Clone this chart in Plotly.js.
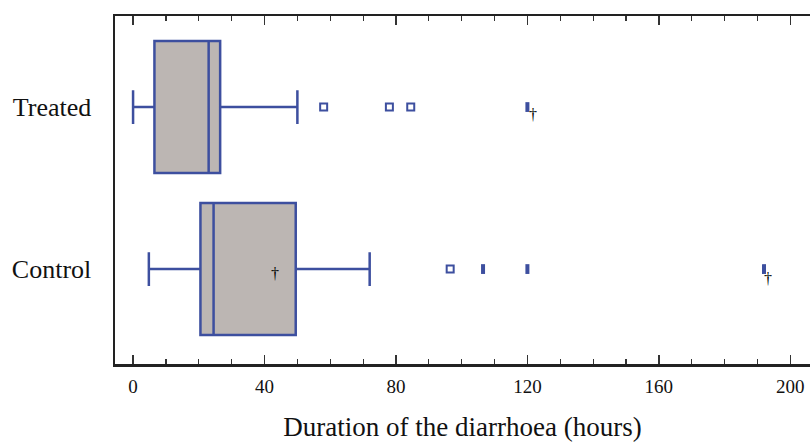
<!DOCTYPE html>
<html>
<head>
<meta charset="utf-8">
<script src="https://cdn.plot.ly/plotly-3.0.1.min.js"></script>
<style>html,body{margin:0;padding:0;background:#fff;}#chart{width:810px;height:442px;}</style>
</head>
<body>
<div id="chart"></div>
<script>
// Data (hours)
const groups = ['Control', 'Treated'];
const q1 = [20.5, 6.5];
const median = [24.5, 23];
const q3 = [49.5, 26.5];
const lowerWhisker = [4.8, 0];
const upperWhisker = [72, 50];

// Outliers
const openOutlierX = [96.5, 58, 78, 84.5];
const openOutlierGroup = ['Control', 'Treated', 'Treated', 'Treated'];
const farOutlierX = [106.5, 120, 192, 120];
const farOutlierGroup = ['Control', 'Control', 'Control', 'Treated'];

// Dagger marks
const daggerX = [43.2, 193.3, 121.6];
const daggerGroup = ['Control', 'Control', 'Treated'];

const xTicks = [0, 40, 80, 120, 160, 200];

const blue = '#3d4f9f';
const serif = 'Liberation Serif, DejaVu Serif, serif';
const traces = [{
  type: 'box',
  orientation: 'h',
  y: groups,
  q1: q1, median: median, q3: q3,
  lowerfence: lowerWhisker, upperfence: upperWhisker,
  width: 0.815,
  whiskerwidth: 0.255,
  fillcolor: '#bcb6b3',
  line: {color: blue, width: 2.5},
  boxpoints: false,
  hoverinfo: 'skip',
  showlegend: false
}, {
  type: 'scatter', mode: 'markers',
  x: openOutlierX, y: openOutlierGroup,
  marker: {symbol: 'square-open', size: 7, color: blue, line: {width: 2, color: blue}},
  showlegend: false, cliponaxis: false
}, {
  type: 'scatter', mode: 'markers',
  x: farOutlierX, y: farOutlierGroup,
  marker: {symbol: 'line-ns', size: 7, color: blue, line: {width: 4, color: blue}},
  showlegend: false, cliponaxis: false
}];

const annotations = daggerX.map((x, i) => ({
  x: x, y: daggerGroup[i], xref: 'x', yref: 'y',
  text: '†', showarrow: false,
  font: {family: serif, size: 16, color: '#000000'},
  yshift: i === 0 ? -4 : (i === 1 ? -9 : -7)
}));

const layout = {
  width: 810, height: 442,
  margin: {l: 115, r: 0, t: 16, b: 78},
  paper_bgcolor: '#ffffff',
  plot_bgcolor: '#ffffff',
  showlegend: false,
  font: {family: serif, color: '#111'},
  xaxis: {
    range: [-5.5, 206],
    tickvals: xTicks,
    ticktext: xTicks.map(String),
    ticks: 'inside', ticklen: 9, tickwidth: 1.5, tickcolor: '#333',
    minor: {ticks: 'inside', dtick: 10, ticklen: 5, tickwidth: 1.2, tickcolor: '#333', showgrid: false},
    showline: true, linecolor: '#222', linewidth: 2.5, mirror: 'ticks',
    showgrid: false, zeroline: false,
    tickfont: {size: 19, color: '#111'},
    ticklabelstandoff: 4,
    title: {text: 'Duration of the diarrhoea (hours)', font: {size: 27, color: '#111'}, standoff: 22}
  },
  yaxis: {
    type: 'category',
    categoryorder: 'array', categoryarray: groups,
    range: [-0.586, 1.562],
    showline: true, linecolor: '#222', linewidth: 2.5,
    ticks: '', showgrid: false, zeroline: false,
    tickfont: {size: 26, color: '#111'},
    ticklabelstandoff: 16
  },
  annotations: annotations
};

Plotly.newPlot('chart', traces, layout, {displayModeBar: false, staticPlot: true});
</script>
</body>
</html>
